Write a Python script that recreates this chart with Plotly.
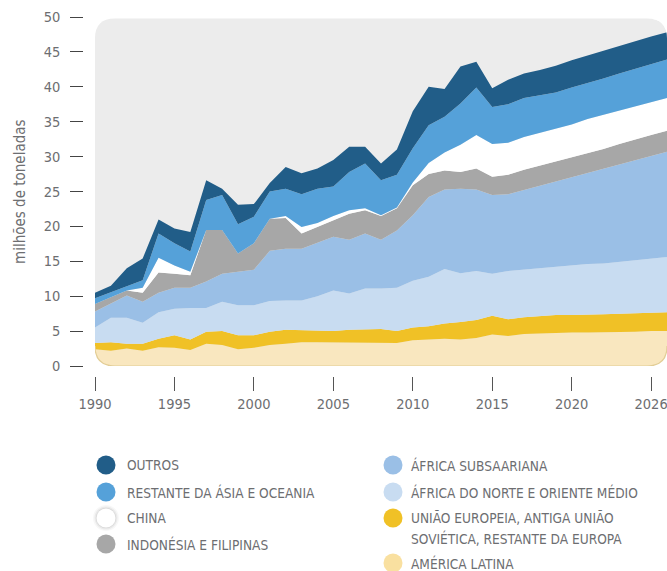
import plotly.graph_objects as go

years = list(range(1990, 2027))

# values in millions of tonnes (per series, stacked bottom -> top)
america_latina = [2.4, 2.2, 2.5, 2.2, 2.7, 2.6, 2.3, 3.2, 3.0, 2.4,
                  2.6, 3.0, 3.2, 3.4, 3.4, 3.4, 3.4, 3.3, 3.4, 3.3,
                  3.7, 3.8, 3.9, 3.8, 4.0, 4.5, 4.3, 4.6, 4.7, 4.7,
                  4.8, 4.8, 4.8, 4.9, 4.9, 5.0, 5.0]
uniao_europeia = [0.9, 1.2, 0.7, 1.0, 1.2, 1.8, 1.5, 1.7, 2.0, 2.0,
                  1.8, 1.9, 2.0, 1.7, 1.6, 1.6, 1.8, 1.9, 1.9, 1.7,
                  1.8, 1.9, 2.2, 2.5, 2.6, 2.7, 2.4, 2.4, 2.5, 2.6,
                  2.5, 2.5, 2.6, 2.6, 2.7, 2.7, 2.7]
africa_norte = [2.2, 3.5, 3.7, 3.0, 3.8, 3.8, 4.5, 3.4, 4.2, 4.3,
                4.3, 4.4, 4.2, 4.3, 5.0, 5.8, 5.2, 5.9, 5.8, 6.2,
                6.7, 7.1, 7.8, 7.0, 7.0, 6.0, 6.9, 6.8, 6.9, 7.0,
                7.1, 7.3, 7.3, 7.4, 7.6, 7.7, 7.9]
africa_subs = [2.3, 2.1, 3.2, 3.0, 2.8, 3.0, 2.9, 3.8, 4.0, 4.8,
               5.1, 7.2, 7.4, 7.4, 7.7, 7.7, 7.7, 7.9, 7.0, 8.2,
               9.4, 11.4, 11.4, 12.1, 11.7, 11.3, 11.0, 11.4, 11.7, 12.1,
               12.6, 13.0, 13.6, 14.0, 14.3, 14.7, 15.1]
indonesia = [1.1, 0.8, 0.7, 1.3, 2.9, 2.0, 1.8, 7.4, 6.3, 2.6,
             3.8, 4.6, 4.4, 2.2, 2.2, 2.4, 3.7, 3.3, 3.4, 3.2,
             4.3, 3.3, 2.7, 2.4, 3.0, 2.6, 2.8, 2.9, 2.9, 2.8,
             2.8, 2.9, 2.8, 2.9, 3.0, 3.0, 3.0]
china = [0.0, 0.0, 0.0, 0.7, 2.1, 1.2, 0.5, 0.0, 0.0, 0.0,
         0.0, 0.0, 0.3, 0.9, 0.6, 0.6, 0.5, 0.3, 0.1, 0.1,
         0.4, 1.6, 2.6, 3.9, 4.8, 4.7, 4.6, 4.7, 4.7, 4.9,
         4.8, 4.9, 4.9, 4.9, 4.8, 4.8, 4.7]
restante_asia = [0.8, 0.8, 0.7, 1.1, 3.5, 3.2, 2.9, 4.3, 5.0, 4.2,
                 3.8, 3.9, 3.9, 4.7, 4.9, 4.2, 5.5, 6.4, 5.0, 4.7,
                 4.9, 5.4, 5.1, 5.9, 6.8, 5.3, 5.5, 5.6, 5.4, 5.1,
                 5.3, 5.1, 5.2, 5.2, 5.3, 5.3, 5.5]
outros = [0.8, 0.9, 2.5, 3.1, 2.0, 2.1, 2.8, 2.8, 0.9, 2.8,
          1.8, 1.2, 3.1, 3.0, 2.9, 3.8, 3.6, 2.4, 2.4, 3.6,
          5.3, 5.5, 4.0, 5.3, 3.7, 2.7, 3.5, 3.5, 3.6, 3.8,
          3.9, 4.0, 4.0, 4.0, 3.9, 4.0, 3.9]

series_names = ["AMÉRICA LATINA",
                "UNIÃO EUROPEIA, ANTIGA UNIÃO<br>SOVIÉTICA, RESTANTE DA EUROPA",
                "ÁFRICA DO NORTE E ORIENTE MÉDIO",
                "ÁFRICA SUBSAARIANA",
                "INDONÉSIA E FILIPINAS",
                "CHINA",
                "RESTANTE DA ÁSIA E OCEANIA",
                "OUTROS"]
series_values = [america_latina, uniao_europeia, africa_norte, africa_subs,
                 indonesia, china, restante_asia, outros]
series_colors = ["#f9e7bf", "#f0c126", "#c8dcf1", "#9abfe6",
                 "#a7a7a7", "#ffffff", "#55a1d9", "#215d88"]

tick_years = [1990, 1995, 2000, 2005, 2010, 2015, 2020, 2025]
tick_text = ["1990", "1995", "2000", "2005", "2010", "2015", "2020", "2026"]
y_ticks = [0, 5, 10, 15, 20, 25, 30, 35, 40, 45, 50]

W, H = 667, 571
ML, MR, MT, MB = 60, 0, 17, 190
PW, PH = W - ML - MR, H - MT - MB


def px(x):
    return (x - ML) / PW


def py(y):
    return (H - MB - y) / PH


TXT = "#6d6e71"
FONT = "DejaVu Sans Condensed, DejaVu Sans, sans-serif"

fig = go.Figure()
for name, vals, col in zip(series_names, series_values, series_colors):
    fig.add_trace(go.Scatter(
        x=years, y=vals, name=name, stackgroup="one", mode="lines",
        line=dict(width=0, color=col), fillcolor=col, showlegend=False,
        hovertemplate="%{x}: %{y} Mt<extra></extra>"))

x0, x1, y0, y1 = 1990, 2026, 0, 49.8
rx, ry = 1.25, 2.85  # ~20 px corner radius in data units
bg_path = (f"M {x0+rx},{y0} L {x1-rx},{y0} Q {x1},{y0} {x1},{y0+ry} "
           f"L {x1},{y1-ry} Q {x1},{y1} {x1-rx},{y1} L {x0+rx},{y1} "
           f"Q {x0},{y1} {x0},{y1-ry} L {x0},{y0+ry} Q {x0},{y0} {x0+rx},{y0} Z")
shapes = [dict(type="path", xref="x", yref="y", path=bg_path,
               fillcolor="#ececec", line=dict(width=0), layer="below")]
# white masks to round the corners of the stacked areas
corner_masks = [
    f"M {x0},{y0} L {x0+rx},{y0} Q {x0},{y0} {x0},{y0+ry} Z",
    f"M {x1},{y0} L {x1-rx},{y0} Q {x1},{y0} {x1},{y0+ry} Z",
    f"M {x1},{y1} L {x1-rx},{y1} Q {x1},{y1} {x1},{y1-ry} Z",
    f"M {x1},{y1} L {x1},{52} L {x1-rx},{52} Z",
]
for p in corner_masks:
    shapes.append(dict(type="path", xref="x", yref="y", path=p,
                       fillcolor="white", line=dict(width=0), layer="above"))
shapes.append(dict(type="path", xref="x", yref="y",
                   path=f"M {x0},{y0+ry} Q {x0},{y0} {x0+rx},{y0} L {x1-rx},{y0} Q {x1},{y0} {x1},{y0+ry}",
                   line=dict(width=1.2, color="#e2cd95"), layer="above"))

# legend (two columns with round markers)
legend_items = [
    ("OUTROS", "#215d88", 106, 465, 125),
    ("RESTANTE DA ÁSIA E OCEANIA", "#55a1d9", 106, 492, 125),
    ("CHINA", "#ffffff", 106, 518, 125),
    ("INDONÉSIA E FILIPINAS", "#a7a7a7", 106, 544, 125),
    ("ÁFRICA SUBSAARIANA", "#9abfe6", 393, 465, 409),
    ("ÁFRICA DO NORTE E ORIENTE MÉDIO", "#c8dcf1", 393, 492, 409),
    ("UNIÃO EUROPEIA, ANTIGA UNIÃO", "#f0c126", 393, 518, 409),
    ("AMÉRICA LATINA", "#f9e0a0", 393, 563, 409),
]
LEG_SIZE = 13.6
annotations = []
r = 9.5
for label, col, cx, cy, tx in legend_items:
    if col == "#ffffff":
        for rr, a in [(13, 0.03), (11.5, 0.05), (10.3, 0.07)]:
            shapes.append(dict(type="circle", xref="paper", yref="paper",
                               x0=px(cx - rr), x1=px(cx + rr), y0=py(cy + rr), y1=py(cy - rr),
                               fillcolor=f"rgba(0,0,0,{a})", line=dict(width=0)))
    shapes.append(dict(type="circle", xref="paper", yref="paper",
                       x0=px(cx - r), x1=px(cx + r), y0=py(cy + r), y1=py(cy - r),
                       fillcolor=col, line=dict(width=0)))
    annotations.append(dict(text=label, xref="paper", yref="paper", x=px(tx), y=py(cy),
                            xanchor="left", yanchor="middle", showarrow=False,
                            font=dict(family=FONT, size=LEG_SIZE, color=TXT)))
annotations.append(dict(text="SOVIÉTICA, RESTANTE DA EUROPA", xref="paper", yref="paper",
                        x=px(409), y=py(538), xanchor="left", yanchor="middle", showarrow=False,
                        font=dict(family=FONT, size=LEG_SIZE, color=TXT)))
annotations.append(dict(text="milhões de toneladas", xref="paper", yref="paper",
                        x=px(20), y=py(192), textangle=-90, showarrow=False,
                        xanchor="center", yanchor="middle",
                        font=dict(family=FONT, size=15, color=TXT)))

fig.update_layout(
    width=W, height=H, margin=dict(l=ML, r=MR, t=MT, b=MB),
    paper_bgcolor="white", plot_bgcolor="white",
    font=dict(family=FONT, color=TXT),
    shapes=shapes, annotations=annotations, showlegend=False,
    xaxis=dict(domain=[px(95), 1], range=[1990, 2026], anchor="free", position=py(376),
               tickmode="array", tickvals=tick_years, ticktext=tick_text,
               ticks="outside", ticklen=13.5, tickwidth=1.3, tickcolor="#555",
               showgrid=False, zeroline=False, showline=False,
               ticklabeloverflow="allow",
               ticklabelstandoff=1, tickfont=dict(family=FONT, size=14.5, color=TXT)),
    yaxis=dict(domain=[py(366), 1], range=[0, 50], anchor="free", position=px(82.7),
               tickmode="array", tickvals=y_ticks,
               ticks="outside", ticklen=12.5, tickwidth=1.3, tickcolor="#444",
               showgrid=False, zeroline=False, showline=False,
               ticklabelstandoff=7, tickfont=dict(family=FONT, size=14.5, color=TXT)),
)

fig.write_html(
    "out.html",
    config={"displayModeBar": False},
    post_script="document.body.style.margin='0px';document.body.style.padding='0px';"
                "document.documentElement.style.overflow='hidden';",
)
